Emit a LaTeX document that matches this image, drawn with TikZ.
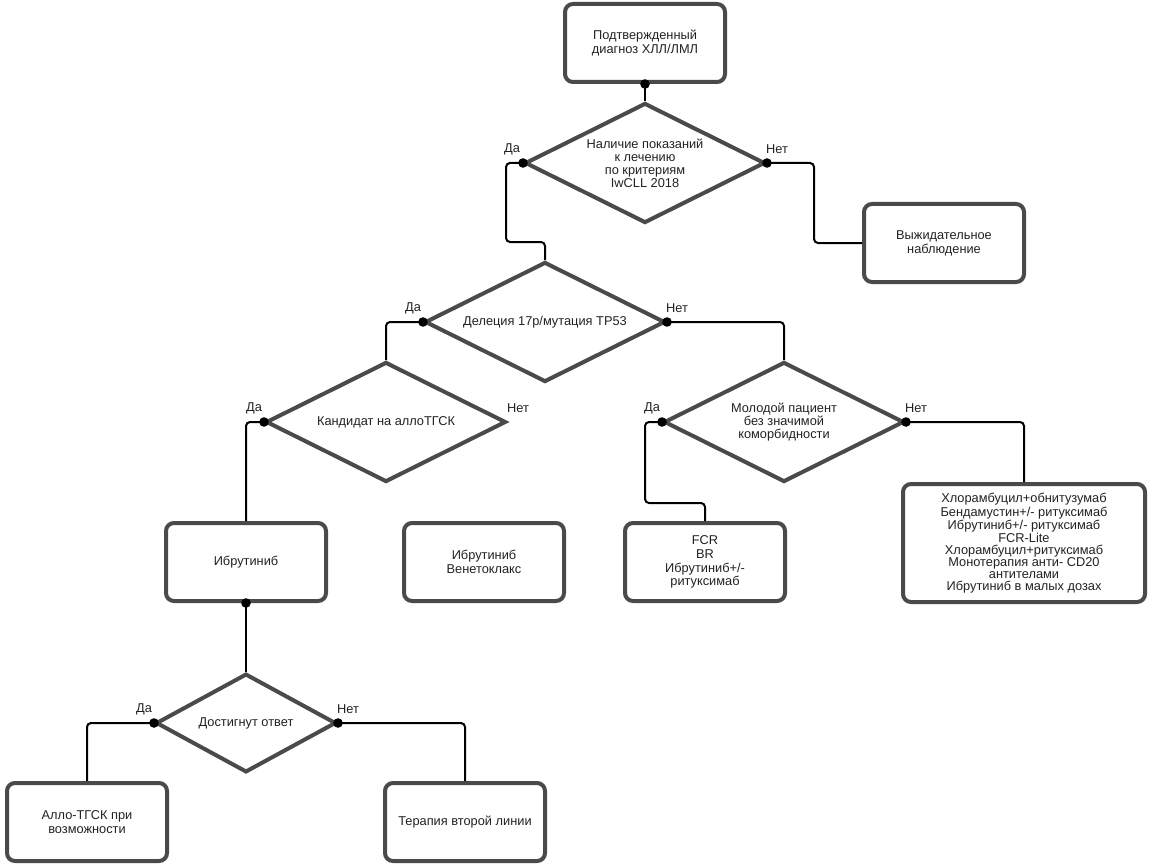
\documentclass[tikz,border=0pt]{standalone}
\usepackage{fontspec}
\setmainfont{Liberation Sans}
\usetikzlibrary{shapes.geometric,calc}
\definecolor{boxgray}{HTML}{4A4A4A}
\definecolor{txt}{HTML}{222222}
\begin{document}
\begin{tikzpicture}[x=0.75pt,y=-0.75pt,
  box/.style={draw=boxgray, line width=3pt, rounded corners=6pt, minimum width=120pt, minimum height=58.5pt, align=center, inner sep=0pt, font=\fontsize{9.6}{10.4}\selectfont, text=txt},
  dia/.style={draw=boxgray, line width=3pt, diamond, aspect=2, inner sep=0pt, minimum width=180pt, minimum height=90pt, align=center, font=\fontsize{9.6}{9.7}\selectfont, text=txt},
  conn/.style={line width=1.5pt, rounded corners=3pt},
  lbl/.style={font=\fontsize{9.6}{10}\selectfont, text=txt, inner sep=0pt}
]
\fill[white] (0,0) rectangle (1151,866);
\useasboundingbox (0,0) rectangle (1151,866);

% nodes
\node[box] (b1) at (645,43) {Подтвержденный\\диагноз ХЛЛ/ЛМЛ};
\node[dia] (d1) at (645,163) {Наличие показаний\\к лечению\\по критериям\\IwCLL 2018};
\node[box] (bw) at (944,243) {Выжидательное\\наблюдение};
\node[dia] (d2) at (545,322) {Делеция 17р/мутация ТР53};
\node[dia] (d3) at (386,422) {Кандидат на аллоТГСК};
\node[dia] (d4) at (784,422) {Молодой пациент\\без значимой\\коморбидности};
\node[box] (bI) at (246,562) {Ибрутиниб};
\node[box] (bIV) at (484,562) {Ибрутиниб\\Венетоклакс};
\node[box] (bF) at (705,562) {FCR\\BR\\Ибрутиниб+/-\\ритуксимаб};
\node[box, minimum width=181.5pt, minimum height=88.5pt, font=\fontsize{9.6}{8.9}\selectfont] (bB) at (1024,543) {Хлорамбуцил+обнитузумаб\\Бендамустин+/- ритуксимаб\\Ибрутиниб+/- ритуксимаб\\FCR-Lite\\Хлорамбуцил+ритуксимаб\\Монотерапия анти- CD20\\антителами\\Ибрутиниб в малых дозах};
\node[dia, minimum width=135pt, minimum height=74pt] (d5) at (246,723) {Достигнут ответ};
\node[box] (bA) at (87,822) {Алло-ТГСК при\\возможности};
\node[box] (bT) at (465,822) {Терапия второй линии};

% labels
\node[lbl] (l1y) at ([shift={(-11,-14)}]d1.west) {Да};
\node[lbl] (l1n) at ([shift={(10,-14)}]d1.east) {Нет};
\node[lbl] (l2y) at ([shift={(-10,-14)}]d2.west) {Да};
\node[lbl] (l2n) at ([shift={(10,-14)}]d2.east) {Нет};
\node[lbl] (l3y) at ([shift={(-10,-14)}]d3.west) {Да};
\node[lbl] (l3n) at ([shift={(10,-14)}]d3.east) {Нет};
\node[lbl] (l4y) at ([shift={(-10,-14)}]d4.west) {Да};
\node[lbl] (l4n) at ([shift={(10,-14)}]d4.east) {Нет};
\node[lbl] (l5y) at ([shift={(-10,-14)}]d5.west) {Да};
\node[lbl] (l5n) at ([shift={(10,-14)}]d5.east) {Нет};

% connectors
\draw[conn] (b1.south) -- (d1.north);
\draw[conn] (d1.west) -| (506,242) -| (d2.north);
\draw[conn] (d1.east) -| ([xshift=-36pt]bw.west) -- (bw.west);
\draw[conn] (d2.west) -| (d3.north);
\draw[conn] (d2.east) -| (d4.north);
\draw[conn] (d3.west) -| (bI.north);
\draw[conn] (bI.south) -- (d5.north);
\draw[conn] (d4.west) -| (645,503) -| (bF.north);
\draw[conn] (d4.east) -| (bB.north);
\draw[conn] (d5.west) -| (bA.north);
\draw[conn] (d5.east) -| (bT.north);

% junction dots
\foreach \p in {b1.south,d1.west,d1.east,d2.west,d2.east,d3.west,d4.west,d4.east,bI.south,d5.west,d5.east}
  \fill (\p) circle (3.6pt);
\end{tikzpicture}
\end{document}
